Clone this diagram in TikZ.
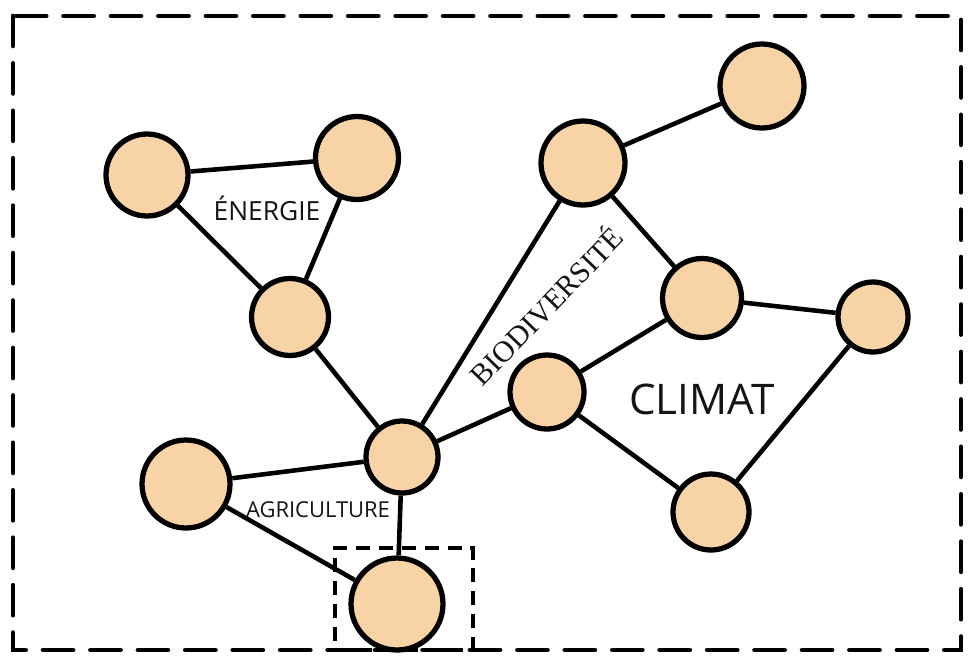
\documentclass[tikz,border=0pt]{standalone}
\usepackage{fontspec}
\setsansfont{Open Sans}
\newfontfamily\bioserif{Liberation Serif}
\usepackage{tikz}
\usetikzlibrary{positioning}
\definecolor{peach}{HTML}{F8D3A6}
\definecolor{ink}{HTML}{141414}

\begin{document}
\begin{tikzpicture}[
		x=0.02cm,y=-0.02cm,
		blob/.style={
			circle,
			draw=black,
			fill=peach,
			line width=3pt,
			inner sep=0pt
		},
		link/.style={
			line width=2.6pt
		},
		theme/.style={
			text=ink,
			font=\sffamily
		}
		]
		\useasboundingbox (0,0) rectangle (969,659);
		
		% frame
		\draw[line width=2.8pt,dash pattern=on 17pt off 10pt,line cap=round] (13,16) rectangle (961,650);
		
		% energie
		\node[blob,minimum size=1.64cm] (E1) at (147,175){};
		\node[blob,minimum size=1.66cm] (E2) at (357,158){};
		\node[blob,minimum size=1.54cm] (E3) at (290,317){};
		% agriculture
		\node[blob,minimum size=1.44cm] (HUB) at (402,457){};
		\node[blob,minimum size=1.76cm] (A1) at (186,484){};
		\node[blob,minimum size=1.84cm] (A2) at (397,604){};
		% biodiversite
		\node[blob,minimum size=1.68cm] (B1) at (583,163){};
		\node[blob,minimum size=1.68cm] (B2) at (762,86){};
		% climat
		\node[blob,minimum size=1.58cm] (C1) at (702,298){};
		\node[blob,minimum size=1.40cm] (C2) at (873,317){};
		\node[blob,minimum size=1.48cm] (C3) at (547,392){};
		\node[blob,minimum size=1.52cm] (C4) at (711,512){};
		
		\draw[link] (E1) -- (E2);
		\draw[link] (E1) -- (E3);
		\draw[link] (E2) -- (E3);
		\draw[link] (E3) -- (HUB);
		\draw[link] (HUB) -- (A1);
		\draw[link] (HUB) -- (A2);
		\draw[link] (A1) -- (A2);
		\draw[link] (HUB) -- (B1);
		\draw[link] (B1) -- (B2);
		\draw[link] (B1) -- (C1);
		\draw[link] (HUB) -- (C3);
		\draw[link] (C3) -- (C1);
		\draw[link] (C1) -- (C2);
		\draw[link] (C2) -- (C4);
		\draw[link] (C3) -- (C4);
		
		\node[theme,font=\sffamily\fontsize{15}{17}\selectfont] (ENERGIE) at (267,208) {ÉNERGIE};
		\node[theme,font=\sffamily\fontsize{12.5}{14}\selectfont] (AGRI) at (318,510) {AGRICULTURE};
		\node[theme,font=\sffamily\fontsize{24}{28}\selectfont] (CLIMAT) at (702,399) {CLIMAT};
		\node[theme,font=\bioserif\fontsize{17}{19}\selectfont,rotate=46] (BIO) at (545,305) {BIODIVERSITÉ};
		
		% focus box
		\node[draw,line width=2.6pt,dash pattern=on 8pt off 5pt,minimum width=2.76cm,minimum height=2.04cm] (FOCUS) at (404,599){};
		\end{tikzpicture}
\end{document}
